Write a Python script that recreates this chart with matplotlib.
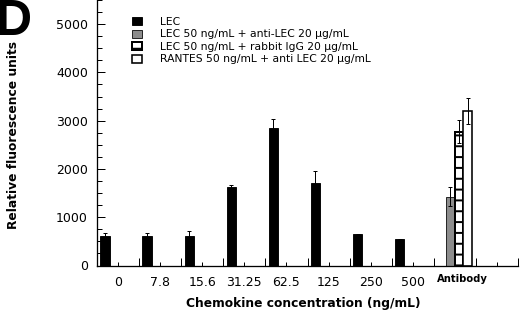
import matplotlib
matplotlib.use("Agg")
import matplotlib.pyplot as plt
import matplotlib.transforms as mtransforms
import numpy as np

# --- DATA ---
concentrations = ["0", "7.8", "15.6", "31.25", "62.5", "125", "250", "500"]
lec_values = [610, 610, 610, 1620, 2840, 1715, 645, 545]
lec_errors = [70, 55, 110, 40, 190, 240, 15, 10]

antibody_labels = ["LEC 50 ng/mL + anti-LEC 20 \u03bcg/mL",
                   "LEC 50 ng/mL + rabbit IgG 20 \u03bcg/mL",
                   "RANTES 50 ng/mL + anti LEC 20 \u03bcg/mL"]
antibody_values = [1425, 2770, 3200]
antibody_errors = [195, 240, 260]

# --- STYLE ---
DPI = 65
PT = 72 / DPI  # pixels -> points
plt.rcParams["font.family"] = ["DejaVu Sans"]
plt.rcParams["hatch.linewidth"] = 2.2

fig = plt.figure(figsize=(520 / DPI, 312 / DPI), dpi=DPI, facecolor="white")
AX_W, AX_H = 421, 265.5
ax = fig.add_axes([97 / 520, 46.5 / 312, AX_W / 520, AX_H / 312])

n_slots = 10
x_lec = np.arange(len(concentrations)) + 0.08
bar_w = 0.22

ax.bar(x_lec, lec_values, width=bar_w, align="edge", color="black",
       edgecolor="black", linewidth=1, label="LEC", zorder=2)
ax.errorbar(x_lec + bar_w / 2, lec_values, yerr=lec_errors, fmt="none",
            ecolor="black", elinewidth=1 * PT, capsize=2 * PT, capthick=1 * PT, zorder=3)

ab_center = 8.6
ab_w = 0.21
ab_x = ab_center + np.array([-1, 0, 1]) * ab_w
ab_face = ["#8c8c8c", "white", "white"]
ab_hatch = [None, "-", None]
ab_lw = [0.8, 2.0, 1.6]
for xi, v, fc, h, lw, lab in zip(ab_x, antibody_values, ab_face, ab_hatch, ab_lw, antibody_labels):
    ax.bar(xi, v, width=ab_w, color=fc, edgecolor="black", hatch=h,
           linewidth=lw * PT, label=lab, zorder=2)
ax.errorbar(ab_x, antibody_values, yerr=antibody_errors, fmt="none",
            ecolor="black", elinewidth=1 * PT, capsize=2 * PT, capthick=1 * PT, zorder=3)

# --- AXES ---
ax.set_xlim(0, n_slots)
ax.set_ylim(0, 5500)
for s in ["top", "right"]:
    ax.spines[s].set_visible(False)
for s in ["left", "bottom"]:
    ax.spines[s].set_linewidth(1.3 * PT)

ax.set_yticks(np.arange(0, 5001, 1000))
ax.set_yticks(np.arange(0, 5501, 250), minor=True)
ax.tick_params(axis="y", which="major", direction="in", length=8 * PT, width=1 * PT,
               labelsize=12.5 * PT, pad=9 * PT)
ax.tick_params(axis="y", which="minor", direction="in", length=5 * PT, width=1 * PT)

ax.set_xticks(np.arange(1, n_slots + 1))
ax.set_xticklabels([])
ax.set_xticks(np.arange(0.5, n_slots), minor=True)
ax.set_xticklabels(concentrations + ["", ""], minor=True)
ax.tick_params(axis="x", which="major", direction="in", length=8 * PT, width=1 * PT)
ax.tick_params(axis="x", which="minor", direction="in", length=4 * PT, width=1 * PT,
               labelsize=12.5 * PT, pad=10 * PT)

blend = mtransforms.blended_transform_factory(ax.transData, ax.transAxes)
ax.text(8.69, -13.5 / AX_H, "Antibody", transform=blend,
        ha="center", va="center", fontsize=10 * PT, fontweight="bold")

ax.set_ylabel("Relative fluorescence units", fontsize=12.3 * PT, fontweight="bold")
ax.yaxis.set_label_coords(-0.183, 0.49)
ax.set_xlabel("Chemokine concentration (ng/mL)", fontsize=12.2 * PT, fontweight="bold")
ax.xaxis.set_label_coords(206 / AX_W, -31 / AX_H)

ax.legend(loc="upper left", bbox_to_anchor=(35 / AX_W, 1 - 17 / AX_H), frameon=False,
          fontsize=10.8 * PT, handlelength=0.95, handleheight=0.75, handletextpad=1.6,
          labelspacing=0.23, borderaxespad=0, borderpad=0)

fig.text(-4 / 520, 1 - 35 / 312, "D", fontsize=50 * PT, fontweight="bold",
         ha="left", va="baseline", family="Liberation Sans")

fig.savefig("out.png", dpi=DPI)
